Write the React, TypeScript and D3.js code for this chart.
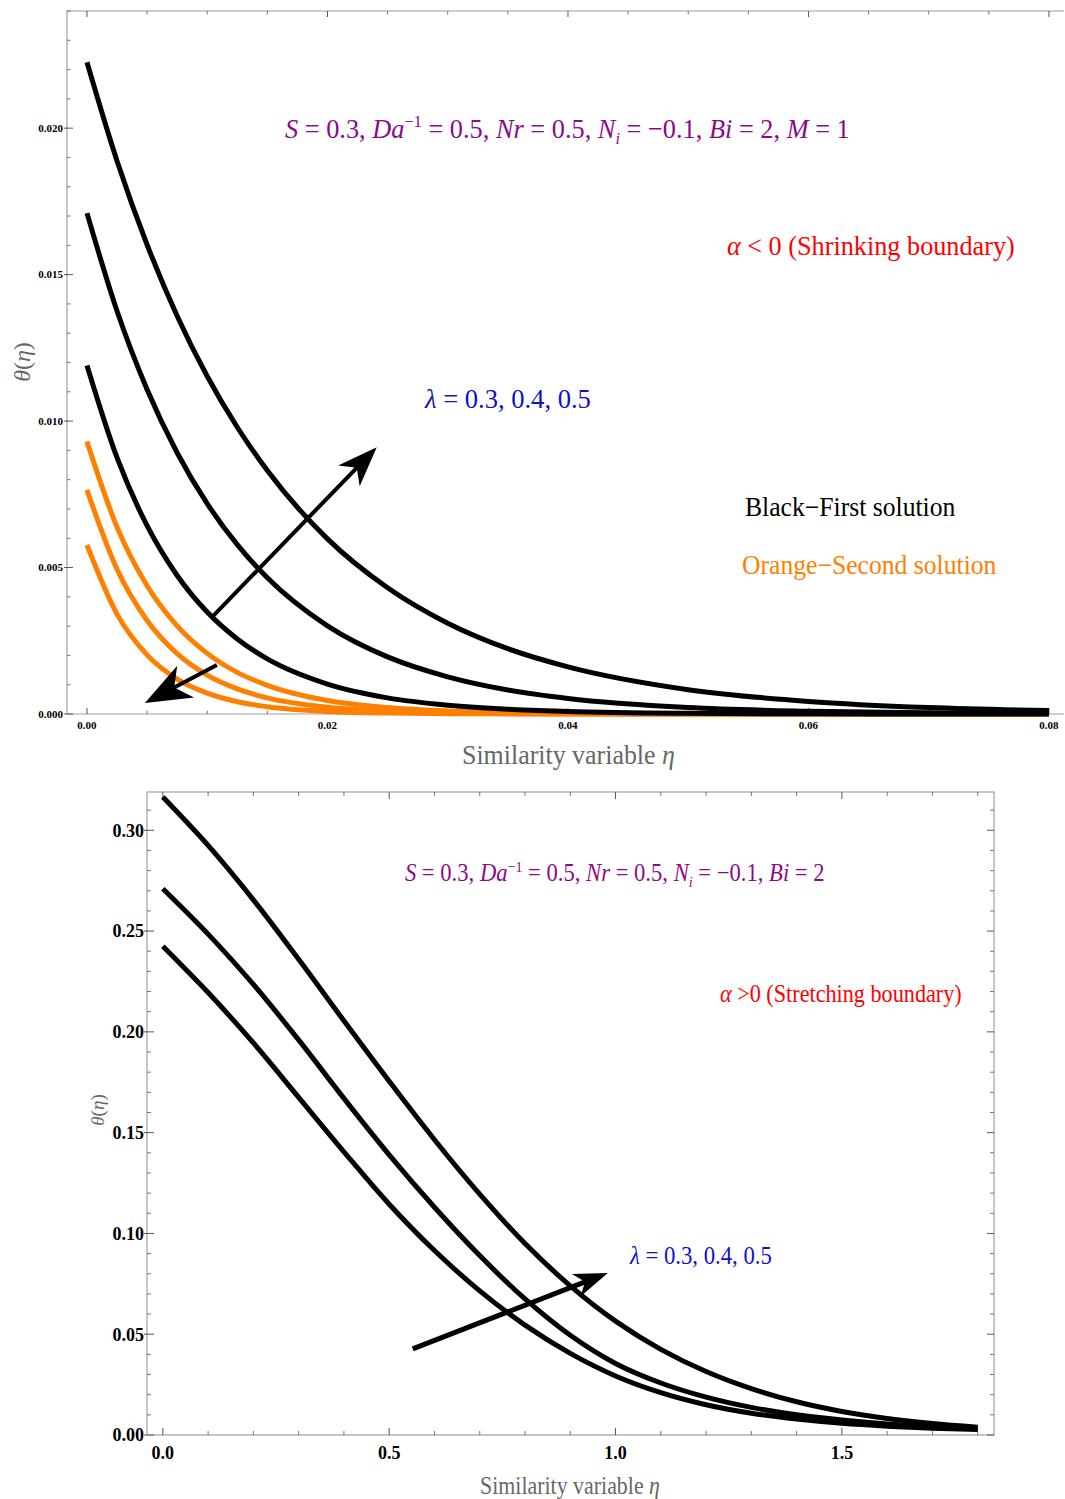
import React, { useLayoutEffect, useRef, useState } from "react";
import * as d3 from "d3";

// ---- top panel: shrinking boundary (alpha < 0) ----
const topEta = [0, 0.0025, 0.005, 0.0075, 0.01, 0.0125, 0.015, 0.02, 0.025, 0.03, 0.035, 0.04, 0.05, 0.06, 0.07, 0.08];
const firstL03 = [0.0119, 0.00875, 0.00643, 0.00473, 0.00348, 0.00256, 0.00188, 0.00102, 0.00055, 0.0003, 0.00016, 0.000087, 0.000025, 0.000007, 0.000002, 0.0000006];
const firstL04 = [0.0171, 0.01376, 0.01108, 0.00892, 0.00718, 0.00578, 0.00465, 0.00301, 0.00195, 0.00127, 0.00082, 0.00053, 0.00022, 0.000094, 0.00004, 0.000016];
const firstL05 = [0.02225, 0.01888, 0.01602, 0.01359, 0.01153, 0.00979, 0.00831, 0.00598, 0.00431, 0.0031, 0.00223, 0.00161, 0.00083, 0.00043, 0.00022, 0.000116];
const secondL03 = [0.0093, 0.00638, 0.00438, 0.00301, 0.00207, 0.00142, 0.00098, 0.00046, 0.00022, 0.0001, 0.00005, 0.00002, 0.000005, 0.000001, 0, 0];
const secondL04 = [0.00765, 0.00494, 0.00319, 0.00206, 0.00133, 0.00086, 0.00055, 0.00023, 0.0001, 0.00004, 0.00002, 0.000007, 0.000001, 0, 0, 0];
const secondL05 = [0.00577, 0.00341, 0.00202, 0.00119, 0.00071, 0.00042, 0.00025, 0.000087, 0.00003, 0.00001, 0.000004, 0.000001, 0, 0, 0, 0];

const topXTicks = [0, 0.02, 0.04, 0.06, 0.08];
const topYTicks = [0, 0.005, 0.01, 0.015, 0.02];

// ---- bottom panel: stretching boundary (alpha > 0) ----
const botEta = [0, 0.1, 0.2, 0.3, 0.4, 0.5, 0.6, 0.7, 0.8, 0.9, 1.0, 1.1, 1.2, 1.3, 1.4, 1.5, 1.6, 1.7, 1.8];
const stretchL03 = [0.2425, 0.2195, 0.1945, 0.1675, 0.1405, 0.1145, 0.0915, 0.0715, 0.0545, 0.0405, 0.0293, 0.021, 0.015, 0.0108, 0.0079, 0.0058, 0.0044, 0.0034, 0.0027];
const stretchL04 = [0.271, 0.2485, 0.2235, 0.196, 0.167, 0.139, 0.113, 0.089, 0.0675, 0.0495, 0.0355, 0.0258, 0.0188, 0.0137, 0.01, 0.0074, 0.0055, 0.0042, 0.0032];
const stretchL05 = [0.3165, 0.2925, 0.2655, 0.236, 0.2055, 0.1755, 0.1465, 0.1195, 0.095, 0.074, 0.0565, 0.0425, 0.0315, 0.023, 0.0165, 0.0117, 0.0082, 0.0057, 0.0039];

const botXTicks = [0, 0.5, 1.0, 1.5];
const botYTicks = [0, 0.05, 0.1, 0.15, 0.2, 0.25, 0.3];

const SERIF = "'Liberation Serif', 'Times New Roman', serif";
const ORANGE = "#ff7f00";
const PURPLE = "#8a0a8a";
const RED = "#ff0000";
const BLUE = "#1010c8";
const FRAME = "#a0a0a0";

const xTop = d3.scaleLinear().domain([-0.00166, 0.08125]).range([67, 1064]);
const yTop = d3.scaleLinear().domain([0, 0.024]).range([714, 11]);
const xBot = d3.scaleLinear().domain([-0.035, 1.836]).range([147, 994]);
const yBot = d3.scaleLinear().domain([0, 0.319]).range([1435, 792]);

function Arrow({ x1, y1, x2, y2, head, half, width }: any) {
  const dx = x2 - x1, dy = y2 - y1;
  const len = Math.hypot(dx, dy);
  const ux = dx / len, uy = dy / len;
  const px = -uy, py = ux;
  const bx = x2 - ux * head, by = y2 - uy * head;
  const nx = x2 - ux * head * 0.72, ny = y2 - uy * head * 0.72;
  const pts = [[x2, y2], [bx + px * half, by + py * half], [nx, ny], [bx - px * half, by - py * half]];
  return (
    <g>
      <line x1={x1} y1={y1} x2={nx} y2={ny} stroke="black" strokeWidth={width} />
      <polygon points={pts.map((p) => p.join(",")).join(" ")} fill="black" />
    </g>
  );
}

// text squeezed horizontally to the width it has in the figure
function FitText({ x, y, width, size, fill, children }: any) {
  const ref = useRef<SVGTextElement>(null);
  const [k, setK] = useState(1);
  useLayoutEffect(() => {
    if (ref.current) {
      const w = ref.current.getBBox().width;
      if (w > 0) setK(width / w);
    }
  }, [width]);
  return (
    <g transform={`translate(${x},${y}) scale(${k},1)`}>
      <text ref={ref} x={0} y={0} fontFamily={SERIF} fontSize={size} fill={fill}>
        {children}
      </text>
    </g>
  );
}

function Axes({ x, y, xMajor, xMinor, yMajor, yMinor, xFmt, yFmt, font, maj, min, rightSide, labelGapX, labelGapY }: any) {
  const [x0, x1] = x.range();
  const [y0, y1] = y.range();
  return (
    <g>
      {rightSide ? (
        <rect x={x0} y={y1} width={x1 - x0} height={y0 - y1} fill="none" stroke={FRAME} strokeWidth={1.2} />
      ) : (
        <path d={`M${x1},${y1}H${x0}V${y0}H${x1}`} fill="none" stroke={FRAME} strokeWidth={1.2} />
      )}
      {xMinor.map((v: number, i: number) => (
        <g key={"xm" + i} stroke="#555" strokeWidth={0.8}>
          <line x1={x(v)} x2={x(v)} y1={y0} y2={y0 - min} />
          <line x1={x(v)} x2={x(v)} y1={y1} y2={y1 + min} />
        </g>
      ))}
      {xMajor.map((v: number, i: number) => (
        <g key={"xM" + i}>
          <line x1={x(v)} x2={x(v)} y1={y0} y2={y0 - maj} stroke="#555" strokeWidth={1} />
          <line x1={x(v)} x2={x(v)} y1={y1} y2={y1 + maj} stroke="#555" strokeWidth={1} />
          <text x={x(v)} y={y0 + labelGapX} textAnchor="middle" fontFamily={SERIF} fontSize={font} fontWeight="bold">
            {d3.format(xFmt)(v)}
          </text>
        </g>
      ))}
      {yMinor.map((v: number, i: number) => (
        <g key={"ym" + i} stroke="#555" strokeWidth={0.8}>
          <line x1={x0} x2={x0 + min} y1={y(v)} y2={y(v)} />
          {rightSide && <line x1={x1} x2={x1 - min} y1={y(v)} y2={y(v)} />}
        </g>
      ))}
      {yMajor.map((v: number, i: number) => (
        <g key={"yM" + i}>
          <line x1={x0 - 3} x2={x0 + maj} y1={y(v)} y2={y(v)} stroke="#555" strokeWidth={1} />
          {rightSide && <line x1={x1} x2={x1 - maj} y1={y(v)} y2={y(v)} stroke="#555" strokeWidth={1} />}
          <text x={x0 - labelGapY} y={y(v)} dy="0.35em" textAnchor="end" fontFamily={SERIF} fontSize={font} fontWeight="bold">
            {d3.format(yFmt)(v)}
          </text>
        </g>
      ))}
    </g>
  );
}

function Curve({ x, y, xs, ys, color, curve }: any) {
  const line = d3
    .line<number>()
    .x((_d, i) => x(xs[i]))
    .y((d) => y(d))
    .curve(curve);
  return <path d={line(ys) || ""} fill="none" stroke={color} strokeWidth={5} strokeLinejoin="round" />;
}

function ParamText({ x, y, size, width, withM }: any) {
  const small = size * 0.62;
  return (
    <FitText x={x} y={y} width={width} size={size} fill={PURPLE}>
      <tspan fontStyle="italic">S</tspan> = 0.3, <tspan fontStyle="italic">Da</tspan>
      <tspan fontSize={small} dy={-size * 0.4}>−1</tspan>
      <tspan dy={size * 0.4}> = 0.5, </tspan>
      <tspan fontStyle="italic">Nr</tspan> = 0.5, <tspan fontStyle="italic">N</tspan>
      <tspan fontStyle="italic" fontSize={small} dy={size * 0.2}>i</tspan>
      <tspan dy={-size * 0.2}> = −0.1, </tspan>
      <tspan fontStyle="italic">Bi</tspan> = 2{withM ? ", " : ""}
      {withM && <tspan fontStyle="italic">M</tspan>}
      {withM ? " = 1" : ""}
    </FitText>
  );
}

export default function App() {
  const topMinorX = d3.range(0, 0.0801, 0.005).filter((v) => !topXTicks.some((t) => Math.abs(t - v) < 1e-9));
  const topMinorY = d3.range(0, 0.0241, 0.001).filter((v) => !topYTicks.some((t) => Math.abs(t - v) < 1e-9));
  const botMinorX = d3.range(0, 1.801, 0.1).filter((v) => !botXTicks.some((t) => Math.abs(t - v) < 1e-9));
  const botMinorY = d3.range(0, 0.3151, 0.01).filter((v) => !botYTicks.some((t) => Math.abs(t - v) < 1e-9));

  return (
    <svg width={1065} height={1499} style={{ position: "absolute", left: 0, top: 0, background: "white" }}>
      {/* ---------- top panel ---------- */}
      <Axes x={xTop} y={yTop} xMajor={topXTicks} xMinor={topMinorX} yMajor={topYTicks} yMinor={topMinorY}
        xFmt=".2f" yFmt=".3f" font={11} maj={6} min={3.5} rightSide={false} labelGapX={15} labelGapY={4} />
      {[secondL05, secondL04, secondL03].map((s, i) => (
        <Curve key={"o" + i} x={xTop} y={yTop} xs={topEta} ys={s} color={ORANGE} curve={d3.curveMonotoneX} />
      ))}
      {[firstL03, firstL04, firstL05].map((s, i) => (
        <Curve key={"b" + i} x={xTop} y={yTop} xs={topEta} ys={s} color="black" curve={d3.curveMonotoneX} />
      ))}
      <Arrow x1={xTop(0.0104)} y1={yTop(0.00331)} x2={xTop(0.0241)} y2={yTop(0.00911)} head={40} half={15} width={4} />
      <Arrow x1={xTop(0.0108)} y1={yTop(0.00167)} x2={xTop(0.00482)} y2={yTop(0.000375)} head={46} half={18} width={4} />

      <ParamText x={xTop(0.01647)} y={yTop(0.01966)} size={28} width={565} withM />
      <FitText x={xTop(0.05322)} y={yTop(0.01567)} width={288} size={27} fill={RED}>
        <tspan fontStyle="italic">α</tspan> {"<"} 0 (Shrinking boundary)
      </FitText>
      <FitText x={xTop(0.02811)} y={yTop(0.01044)} width={167} size={27} fill={BLUE}>
        <tspan fontStyle="italic">λ</tspan> = 0.3, 0.4, 0.5
      </FitText>
      <FitText x={xTop(0.05472)} y={yTop(0.00676)} width={211} size={27} fill="black">
        Black−First solution
      </FitText>
      <FitText x={xTop(0.05447)} y={yTop(0.00478)} width={255} size={27} fill={ORANGE}>
        Orange−Second solution
      </FitText>

      <FitText x={462} y={764} width={213} size={27} fill="#666">
        Similarity variable <tspan fontStyle="italic">η</tspan>
      </FitText>
      <text transform="translate(30,362) rotate(-90)" textAnchor="middle" fontFamily={SERIF} fontSize={24} fill="#666">
        <tspan fontStyle="italic">θ</tspan>(<tspan fontStyle="italic">η</tspan>)
      </text>

      {/* ---------- bottom panel ---------- */}
      <Axes x={xBot} y={yBot} xMajor={botXTicks} xMinor={botMinorX} yMajor={botYTicks} yMinor={botMinorY}
        xFmt=".1f" yFmt=".2f" font={18} maj={7} min={4} rightSide labelGapX={24} labelGapY={3} />
      {[stretchL03, stretchL04, stretchL05].map((s, i) => (
        <Curve key={"s" + i} x={xBot} y={yBot} xs={botEta} ys={s} color="black" curve={d3.curveCatmullRom} />
      ))}
      <Arrow x1={xBot(0.552)} y1={yBot(0.0427)} x2={xBot(0.983)} y2={yBot(0.0804)} head={34} half={12} width={5} />

      <ParamText x={xBot(0.5347)} y={yBot(0.2746)} size={25} width={420} withM={false} />
      <FitText x={xBot(1.2307)} y={yBot(0.215)} width={242} size={25} fill={RED}>
        <tspan fontStyle="italic">α</tspan> {">"}0 (Stretching boundary)
      </FitText>
      <FitText x={xBot(1.0318)} y={yBot(0.0849)} width={143} size={25} fill={BLUE}>
        <tspan fontStyle="italic">λ</tspan> = 0.3, 0.4, 0.5
      </FitText>

      <FitText x={480} y={1494} width={180} size={25} fill="#666">
        Similarity variable <tspan fontStyle="italic">η</tspan>
      </FitText>
      <text transform="translate(104,1110) rotate(-90)" textAnchor="middle" fontFamily={SERIF} fontSize={19} fill="#666">
        <tspan fontStyle="italic">θ</tspan>(<tspan fontStyle="italic">η</tspan>)
      </text>
    </svg>
  );
}
